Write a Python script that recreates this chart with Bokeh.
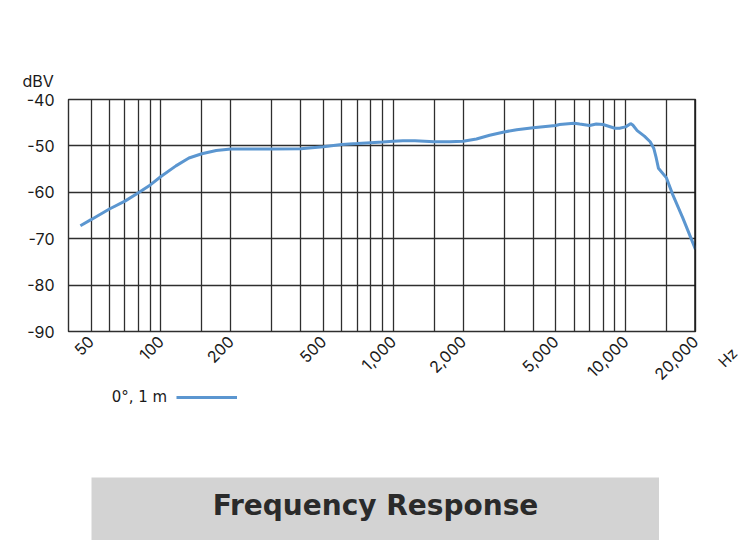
import math
from bokeh.plotting import figure
from bokeh.models import (Range1d, FixedTicker, NumeralTickFormatter, PrintfTickFormatter,
                          Label, Span, Legend, LegendItem, Spacer)
from bokeh.layouts import column, row
from bokeh.embed import file_html
from bokeh.resources import INLINE

# ---- data ----
freq_hz = [45, 50, 60, 70, 80, 90, 100, 116, 132, 150, 173, 200, 300, 400, 500, 600,
           700, 800, 900, 1000, 1100, 1240, 1500, 1750, 2000, 2280, 2600, 3000, 3400,
           4000, 5000, 5200, 6000, 6340, 7000, 7480, 8000, 9000, 9420, 10000, 10500,
           10740, 11220, 12050, 12760, 13220, 13550, 13850, 15000, 15960, 17630, 20000]
level_dbv = [-67.2, -65.9, -63.6, -61.9, -60.1, -58.4, -56.6, -54.3, -52.6, -51.7, -51.0,
             -50.65, -50.65, -50.6, -50.2, -49.7, -49.5, -49.3, -49.15, -49.0, -48.9,
             -48.9, -49.1, -49.1, -49.0, -48.5, -47.7, -47.0, -46.5, -46.1, -45.6, -45.4,
             -45.1, -45.3, -45.6, -45.3, -45.4, -46.2, -46.2, -45.9, -45.2, -45.5, -46.7,
             -47.9, -49.1, -50.5, -52.6, -54.8, -56.9, -60.5, -65.5, -72.3]
x_tick_values = [50, 100, 200, 500, 1000, 2000, 5000, 10000, 20000]
x_grid_values = [50, 60, 70, 80, 90, 100, 150, 200, 300, 400, 500, 600, 700, 800, 900,
                 1000, 1500, 2000, 3000, 4000, 5000, 6000, 7000, 8000, 9000, 10000, 15000]
y_tick_values = [-90, -80, -70, -60, -50, -40]
y_grid_values = [-80, -70, -60, -50]
series_label = "0°, 1 m"
y_unit = "dBV"
x_unit = "Hz"
chart_title = "Frequency Response"

LINE_COLOR = "#5b96d0"
GRID_COLOR = "#2e2e2e"
TEXT_COLOR = "#1a1a1a"
FONT = "Inter"

MAIN_H = 388
LEG_H = 30

p = figure(width=708, height=MAIN_H, x_axis_type="log",
           x_range=Range1d(40, 20000), y_range=Range1d(-90, -40),
           output_backend="svg", toolbar_location=None,
           min_border_left=68, min_border_right=13, min_border_top=99,
           min_border_bottom=MAIN_H - 99 - 233)
p.background_fill_color = "white"
p.border_fill_color = "white"
p.outline_line_color = GRID_COLOR
p.outline_line_width = 1.4

# unit of the y axis, above it on the left
p.title.text = y_unit
p.title.align = "left"
p.title.offset = -46
p.title.standoff = 17
p.title.text_font = FONT
p.title.text_font_style = "normal"
p.title.text_font_size = "16px"
p.title.text_color = TEXT_COLOR

# grid
p.xgrid.ticker = FixedTicker(ticks=x_grid_values)
p.xgrid.grid_line_color = GRID_COLOR
p.xgrid.grid_line_width = 1.3
p.ygrid.ticker = FixedTicker(ticks=y_grid_values)
p.ygrid.grid_line_color = GRID_COLOR
p.ygrid.grid_line_width = 1.3

# axes
xa = p.xaxis[0]
xa.ticker = FixedTicker(ticks=x_tick_values)
xa.formatter = NumeralTickFormatter(format="0,0")
xa.major_label_orientation = math.pi / 4
xa.axis_line_color = None
xa.major_tick_line_color = None
xa.minor_tick_line_color = None
xa.major_label_text_font = FONT
xa.major_label_text_font_size = "16px"
xa.major_label_text_color = TEXT_COLOR
xa.major_label_standoff = 1

ya = p.yaxis[0]
ya.ticker = FixedTicker(ticks=y_tick_values)
ya.formatter = PrintfTickFormatter(format="%d")
ya.axis_line_color = None
ya.major_tick_line_color = None
ya.minor_tick_line_color = None
ya.major_label_text_font = FONT
ya.major_label_text_font_size = "16px"
ya.major_label_text_color = TEXT_COLOR
ya.major_label_standoff = 8

# right edge heavier
p.add_layout(Span(location=20000, dimension="height", line_color="#111111", line_width=2.4))

p.line(freq_hz, level_dbv, line_color=LINE_COLOR, line_width=3)

# "Hz": unit of the x axis, as the tick label of a narrow side plot
hz = figure(width=42, height=MAIN_H, x_range=Range1d(0, 42), y_range=Range1d(0, 1),
            output_backend="svg", toolbar_location=None, min_border=0)
hz.yaxis.visible = False
hz.grid.visible = False
hz.outline_line_color = None
hz.background_fill_color = "white"
hz.border_fill_color = "white"
hxa = hz.xaxis[0]
hxa.ticker = FixedTicker(ticks=[26])
hxa.formatter = PrintfTickFormatter(format=x_unit)
hxa.major_label_orientation = math.pi / 4
hxa.axis_line_color = None
hxa.major_tick_line_color = None
hxa.minor_tick_line_color = None
hxa.major_label_text_font = FONT
hxa.major_label_text_font_size = "15px"
hxa.major_label_text_color = TEXT_COLOR
hxa.major_label_standoff = 13

# legend strip: text first, then the line sample
lg = figure(width=210, height=LEG_H, x_range=Range1d(0, 1), y_range=Range1d(0, 1),
            output_backend="svg", toolbar_location=None, min_border=0)
lg.axis.visible = False
lg.grid.visible = False
lg.outline_line_color = None
lg.background_fill_color = "white"
lg.border_fill_color = "white"
blank = lg.line(x=[], y=[], line_alpha=0)
sample = lg.line(freq_hz, level_dbv, line_color=LINE_COLOR, line_width=3)
legend = Legend(items=[LegendItem(label=series_label, renderers=[blank]),
                       LegendItem(label=" ", renderers=[sample])],
                orientation="horizontal", location=(10.7, 11.75),
                glyph_width=61, glyph_height=16, label_standoff=0, padding=0, margin=0,
                spacing=9, label_height=16,
                label_text_font="DejaVu Sans", label_text_font_size="15px",
                label_text_color=TEXT_COLOR, border_line_color=None,
                background_fill_alpha=0)
lg.add_layout(legend)

# title box
t = figure(width=568, height=63, x_range=Range1d(0, 1), y_range=Range1d(0, 1),
           output_backend="svg", toolbar_location=None, min_border=0)
t.axis.visible = False
t.grid.visible = False
t.outline_line_color = None
t.background_fill_color = "#d3d3d3"
t.border_fill_color = "#d3d3d3"
t.add_layout(Label(x=0.5, y=0.55, text=chart_title, text_font="DejaVu Sans",
                   text_font_style="bold", text_font_size="28px", text_color="#2a2a2a",
                   text_align="center", text_baseline="middle"))

layout = column(row(p, hz),
                row(Spacer(width=40, height=LEG_H), lg),
                Spacer(width=10, height=540 - MAIN_H - LEG_H - 63),
                row(Spacer(width=91, height=63), t))
open("out.html", "w").write(file_html(layout, INLINE))
